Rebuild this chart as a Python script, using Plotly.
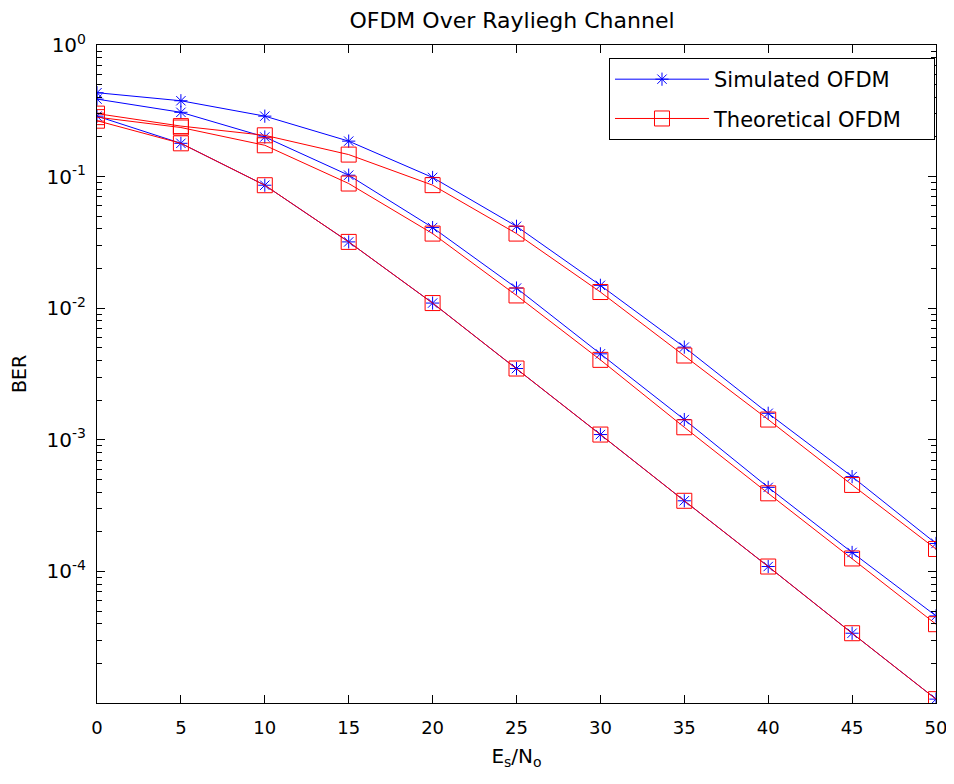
import plotly.graph_objects as go

snr_db = [0, 5, 10, 15, 20, 25, 30, 35, 40, 45, 50]

sim_a = [0.434, 0.377, 0.288, 0.186, 0.0985, 0.0419, 0.01492, 0.00506, 0.00159, 0.000525, 0.000163]
sim_b = [0.388, 0.308, 0.200, 0.1025, 0.0410, 0.01422, 0.0045, 0.001425, 0.000435, 0.0001393, 4.59e-5]
sim_c = [0.288, 0.179, 0.086, 0.0319, 0.01094, 0.00348, 0.001096, 0.000344, 0.0001089, 3.39e-5, 1.07e-5]

theo_a = [0.301, 0.242, 0.206, 0.147, 0.0861, 0.0369, 0.01327, 0.00437, 0.001425, 0.000454, 0.000148]
theo_b = [0.283, 0.236, 0.173, 0.0886, 0.0369, 0.0125, 0.00405, 0.001245, 0.000392, 0.0001254, 3.97e-5]
theo_c = [0.266, 0.179, 0.086, 0.0319, 0.01094, 0.00348, 0.001096, 0.000344, 0.0001089, 3.39e-5, 1.07e-5]

legend_names = ["Simulated OFDM", "Theoretical OFDM"]

y_tickvals = [1, 0.1, 0.01, 0.001, 0.0001]
y_ticktext = ["10<sup>0</sup>", "10<sup>-1</sup>", "10<sup>-2</sup>", "10<sup>-3</sup>", "10<sup>-4</sup>"]
minor_vals = [k * 10.0 ** e for e in range(-5, 0) for k in range(2, 10)]

FONT = "DejaVu Sans"
BLUE = "rgb(0,0,255)"
RED = "rgb(255,0,0)"
PAD = "\u00a0" * 4  # widen legend box to match reference

# the page body adds an 8px offset; compensate in figure size/margins
W, H = 946, 776

fig = go.Figure()

for i, ys in enumerate([sim_a, sim_b, sim_c]):
    fig.add_trace(go.Scatter(
        x=snr_db, y=ys, mode="lines+markers",
        name=legend_names[0] + PAD, legendgroup="sim", showlegend=(i == 0),
        line=dict(color=BLUE, width=1),
        marker=dict(symbol="asterisk-open", size=11, color=BLUE,
                    line=dict(color=BLUE, width=1)),
    ))

for i, ys in enumerate([theo_a, theo_b, theo_c]):
    fig.add_trace(go.Scatter(
        x=snr_db, y=ys, mode="lines+markers",
        name=legend_names[1] + PAD, legendgroup="theo", showlegend=(i == 0),
        line=dict(color=RED, width=1),
        marker=dict(symbol="square-open", size=15, color=RED,
                    line=dict(color=RED, width=1)),
    ))

fig.update_layout(
    width=W, height=H,
    margin=dict(l=89, r=18, t=37, b=81, autoexpand=False),
    paper_bgcolor="white", plot_bgcolor="white",
    font=dict(family=FONT, color="black", size=18),
    title=dict(text="OFDM Over Rayliegh Channel", x=504 / W, xanchor="center",
               y=1 - 12 / H, yanchor="middle", yref="container",
               font=dict(family=FONT, size=22, color="black")),
    legend=dict(x=0.9988, xanchor="right", y=0.9802, yanchor="top",
                bgcolor="white", bordercolor="black", borderwidth=1,
                font=dict(family=FONT, size=21, color="black"),
                itemwidth=94, tracegroupgap=9, traceorder="grouped"),
    showlegend=True,
)

fig.update_xaxes(
    range=[0, 50], tickmode="linear", tick0=0, dtick=5,
    ticks="inside", ticklen=8, tickcolor="black", tickwidth=1,
    showline=True, linecolor="black", linewidth=1, mirror="ticks",
    showgrid=False, zeroline=False, automargin=False,
    tickfont=dict(family=FONT, size=18, color="black"),
    ticklabelstandoff=8,
    title=dict(text="E<sub>s</sub>/N<sub>o</sub>", font=dict(family=FONT, size=20, color="black"), standoff=12),
)

fig.update_yaxes(
    type="log", range=[-5, 0],
    tickmode="array", tickvals=y_tickvals, ticktext=y_ticktext,
    ticks="inside", ticklen=8, tickcolor="black", tickwidth=1,
    minor=dict(tickmode="array", tickvals=minor_vals, ticks="inside", ticklen=5,
               tickcolor="black", tickwidth=1, showgrid=False),
    showline=True, linecolor="black", linewidth=1, mirror="ticks",
    showgrid=False, zeroline=False, automargin=False,
    tickfont=dict(family=FONT, size=20, color="black"),
    ticklabelstandoff=6,
    title=dict(text="BER", font=dict(family=FONT, size=19, color="black"), standoff=20),
)

fig.write_html("out.html")
